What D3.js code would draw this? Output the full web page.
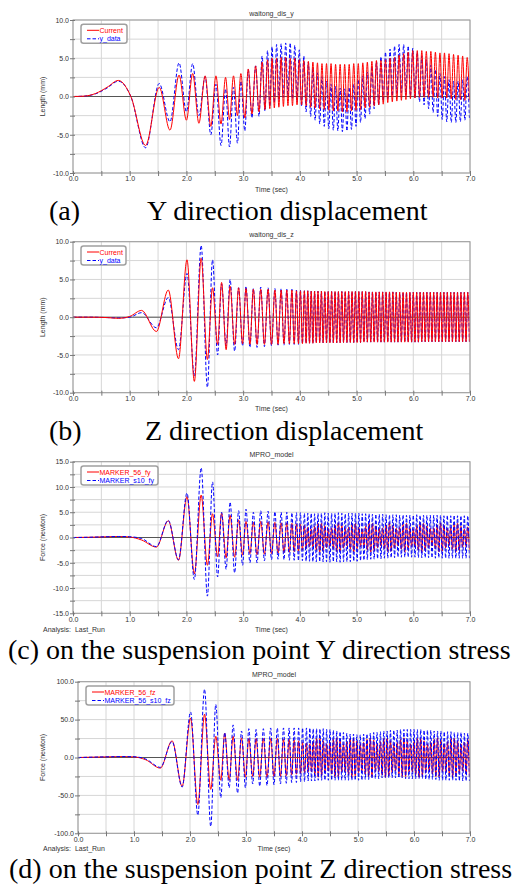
<!DOCTYPE html>
<html>
<head>
<meta charset="utf-8">
<script src="https://cdn.jsdelivr.net/npm/d3@7"></script>
<style>
  body { margin: 0; background: #fff; }
  svg { display: block; }
</style>
</head>
<body>
<svg id="fig" width="512" height="890"></svg>
<script>
// ---- data (extrema, time in sec) ----
const xTicks = [0, 1, 2, 3, 4, 5, 6, 7];
const xGridTicks = [0, 0.5, 1, 1.5, 2, 2.5, 3, 3.5, 4, 4.5, 5, 5.5, 6, 6.5, 7];

// (a) Y displacement
const timeY = [0, 0.2, 0.4, 0.6, 0.8, 1.02, 1.28, 1.52, 1.71, 1.87, 2.00, 2.11, 2.22, 2.33, 2.43, 2.52, 2.61, 2.69, 2.76, 2.83, 2.90, 2.96, 3.03, 3.09, 3.155,
  3.22, 3.28, 3.335, 3.385,
  3.43, 3.47, 3.51, 3.55, 3.59, 3.63, 3.67, 3.71, 3.75, 3.79,
  3.83, 3.87, 3.91, 3.95, 3.99, 4.03, 4.07, 4.11, 4.15, 4.19,
  4.23, 4.27, 4.31, 4.35, 4.39, 4.43, 4.47, 4.51, 4.55, 4.59,
  4.63, 4.67, 4.71, 4.75, 4.79, 4.83, 4.87, 4.91, 4.95, 4.99,
  5.03, 5.07, 5.11, 5.15, 5.19, 5.23, 5.27, 5.31, 5.35, 5.39,
  5.43, 5.47, 5.51, 5.55, 5.59, 5.63, 5.67, 5.71, 5.75, 5.79,
  5.83, 5.87, 5.91, 5.95, 5.99, 6.03, 6.07, 6.11, 6.15, 6.19,
  6.23, 6.27, 6.31, 6.35, 6.39, 6.43, 6.47, 6.51, 6.55, 6.59,
  6.63, 6.67, 6.71, 6.75, 6.79, 6.83, 6.87, 6.91, 6.95, 6.99];
const currentY = [0, 0.05, 0.4, 1.2, 2.1, 0, -6.4, 1.2, -4.4, 2.8, -3.1, 3.0, -3.5, 2.7, -3.9, 2.7, -3.6, 2.5, -3.0, 2.7, -2.5, 3.0, -2.8, 3.6, -2.3,
  4.0, -2.0, 4.5, -1.7,
  4.8, -1.6, 5.0, -1.5, 5.0, -1.4, 5.1, -1.3, 5.1, -1.2,
  5.0, -1.2, 5.0, -1.1, 4.8, -1.1, 4.7, -1.2, 4.6, -1.4,
  4.5, -1.5, 4.4, -1.6, 4.3, -1.7, 4.3, -1.8, 4.3, -1.9,
  4.2, -1.9, 4.2, -2.0, 4.2, -2.0, 4.2, -1.9, 4.3, -1.8,
  4.3, -1.7, 4.4, -1.5, 4.5, -1.4, 4.6, -1.2, 4.7, -1.1,
  4.7, -1.0, 4.8, -0.8, 5.0, -0.7, 5.1, -0.6, 5.4, -0.5,
  5.6, -0.4, 5.8, -0.3, 6.0, -0.2, 6.0, -0.1, 6.0, -0.1,
  5.9, -0.1, 5.9, -0.1, 5.8, -0.2, 5.7, -0.2, 5.7, -0.2,
  5.6, -0.3, 5.5, -0.4, 5.4, -0.4, 5.3, -0.5, 5.1, -0.5];
const dataY = [0, 0.05, 0.35, 1.1, 2.0, 0, -6.7, 1.7, -3.3, 4.4, -2.0, 4.3, -2.5, 2.6, -5.0, 1.6, -6.4, 1.0, -6.6, 1.2, -6.1, 2.0, -4.5, 3.5, -2.8,
  4.0, -2.6, 5.3, -1.9,
  6.0, -1.3, 6.5, -0.8, 6.8, -0.4, 6.9, -0.1, 7.0, 0.0,
  7.0, -0.3, 6.7, -0.7, 6.1, -1.3, 5.3, -2.0, 4.5, -2.6,
  3.8, -3.1, 3.1, -3.6, 2.6, -3.9, 2.0, -4.2, 1.6, -4.4,
  1.3, -4.5, 1.1, -4.6, 1.0, -4.5, 1.2, -4.3, 1.6, -3.9,
  2.2, -3.4, 2.7, -2.9, 3.2, -2.3, 3.9, -1.6, 4.6, -1.1,
  5.2, -0.6, 5.8, -0.3, 6.2, 0.1, 6.6, 0.4, 6.8, 0.5,
  6.8, 0.3, 6.6, 0.1, 6.3, -0.2, 5.8, -0.7, 5.3, -1.1,
  4.8, -1.6, 4.1, -2.1, 3.5, -2.6, 3.0, -3.0, 2.6, -3.3,
  2.2, -3.4, 2.0, -3.4, 2.0, -3.3, 2.2, -3.1, 2.6, -2.8];

// (b), (c), (d) share the same timing
const timeZ = [0, 0.3, 0.6, 0.8, 1.0, 1.21, 1.47, 1.68, 1.86, 2.01, 2.14, 2.26, 2.37, 2.46, 2.55, 2.62, 2.70, 2.77, 2.85, 2.92, 2.99, 3.05, 3.12, 3.18,
  3.245, 3.31, 3.375, 3.44, 3.50, 3.56, 3.615, 3.67, 3.72, 3.77, 3.815, 3.86, 3.90, 3.94, 3.975, 4.01, 4.045, 4.08,
  4.11, 4.14, 4.17, 4.20, 4.23, 4.26, 4.29, 4.32, 4.35, 4.38,
  4.41, 4.44, 4.47, 4.50, 4.53, 4.56, 4.59, 4.62, 4.65, 4.68,
  4.71, 4.74, 4.77, 4.80, 4.83, 4.86, 4.89, 4.92, 4.95, 4.98,
  5.01, 5.04, 5.07, 5.10, 5.13, 5.16, 5.19, 5.22, 5.25, 5.28,
  5.31, 5.34, 5.37, 5.40, 5.43, 5.46, 5.49, 5.52, 5.55, 5.58,
  5.61, 5.64, 5.67, 5.70, 5.73, 5.76, 5.79, 5.82, 5.85, 5.88,
  5.91, 5.94, 5.97, 6.00, 6.03, 6.06, 6.09, 6.12, 6.15, 6.18,
  6.21, 6.24, 6.27, 6.30, 6.33, 6.36, 6.39, 6.42, 6.45, 6.48,
  6.51, 6.54, 6.57, 6.60, 6.63, 6.66, 6.69, 6.72, 6.75, 6.78,
  6.81, 6.84, 6.87, 6.90, 6.93, 6.96, 6.99];
const currentZ = [0, 0, -0.05, -0.15, 0.1, 0.9, -1.9, 3.6, -5.5, 7.6, -8.5, 7.8, -5.6, 3.9, -3.6, 4.6, -4.3, 4.1, -3.6, 3.9, -3.5, 3.8, -3.6, 3.7,
  -3.6, 3.7, -3.6, 3.7, -3.6, 3.6, -3.6, 3.6, -3.5, 3.6, -3.5, 3.6, -3.5, 3.5, -3.5, 3.5, -3.5, 3.5,
  -3.45, 3.5, -3.45, 3.45, -3.45, 3.45, -3.4, 3.45, -3.4, 3.45,
  -3.4, 3.4, -3.4, 3.4, -3.4, 3.4, -3.4, 3.4, -3.4, 3.4,
  -3.4, 3.4, -3.35, 3.4, -3.35, 3.4, -3.35, 3.4, -3.35, 3.4,
  -3.35, 3.4, -3.35, 3.4, -3.3, 3.4, -3.3, 3.35, -3.3, 3.35,
  -3.3, 3.35, -3.3, 3.35, -3.3, 3.35, -3.3, 3.35, -3.3, 3.35,
  -3.3, 3.35, -3.3, 3.3, -3.3, 3.3, -3.3, 3.3, -3.3, 3.3,
  -3.3, 3.3, -3.3, 3.3, -3.3, 3.3, -3.3, 3.3, -3.25, 3.3,
  -3.25, 3.3, -3.25, 3.3, -3.25, 3.3, -3.25, 3.3, -3.25, 3.3,
  -3.25, 3.3, -3.25, 3.3, -3.25, 3.3, -3.25, 3.3, -3.25, 3.3,
  -3.25, 3.3, -3.25, 3.3, -3.25, 3.3, -3.25];
const dataZ = [0, 0, -0.05, -0.1, 0.0, 0.6, -1.4, 2.6, -4.3, 5.8, -7.8, 9.5, -9.3, 7.6, -5.0, 4.4, -3.8, 5.0, -4.5, 3.9, -3.8, 4.1, -4.0, 3.8,
  -4.0, 4.0, -3.9, 3.9, -3.8, 3.8, -3.7, 3.8, -3.7, 3.7, -3.6, 3.7, -3.6, 3.6, -3.6, 3.6, -3.5, 3.5,
  -3.45, 3.5, -3.45, 3.45, -3.45, 3.45, -3.4, 3.45, -3.4, 3.45,
  -3.4, 3.4, -3.4, 3.4, -3.4, 3.4, -3.4, 3.4, -3.4, 3.4,
  -3.4, 3.4, -3.35, 3.4, -3.35, 3.4, -3.35, 3.4, -3.35, 3.4,
  -3.35, 3.4, -3.35, 3.4, -3.3, 3.4, -3.3, 3.35, -3.3, 3.35,
  -3.3, 3.35, -3.3, 3.35, -3.3, 3.35, -3.3, 3.35, -3.3, 3.35,
  -3.3, 3.35, -3.3, 3.3, -3.3, 3.3, -3.3, 3.3, -3.3, 3.3,
  -3.3, 3.3, -3.3, 3.3, -3.3, 3.3, -3.3, 3.3, -3.25, 3.3,
  -3.25, 3.3, -3.25, 3.3, -3.25, 3.3, -3.25, 3.3, -3.25, 3.3,
  -3.25, 3.3, -3.25, 3.3, -3.25, 3.3, -3.25, 3.3, -3.25, 3.3,
  -3.25, 3.3, -3.25, 3.3, -3.25, 3.3, -3.25];
const marker56Fy = [0, 0.05, 0.15, 0.2, 0.1, -0.5, -1.9, 3.3, -4.5, 8.1, -7.2, 8.4, -5.5, 4.7, -3.8, 4.8, -4.0, 4.4, -3.9, 3.5, -3.5, 3.2, -3.2, 3.0,
  -3.4, 3.2, -3.3, 3.1, -3.2, 3.0, -3.1, 2.9, -3.0, 2.9, -2.9, 2.8, -2.8, 2.7, -2.7, 2.6, -2.5, 2.4,
  -2.2, 2.0, -1.8, 1.7, -1.9, 2.2, -2.5, 2.8, -2.9, 2.8,
  -2.6, 2.3, -2.0, 1.8, -1.7, 1.9, -2.2, 2.5, -2.8, 2.9,
  -2.7, 2.4, -2.1, 1.8, -1.7, 2.0, -2.3, 2.6, -2.9, 2.8,
  -2.2, 2.0, -1.8, 1.7, -1.9, 2.2, -2.5, 2.8, -2.9, 2.8,
  -2.6, 2.3, -2.0, 1.8, -1.7, 1.9, -2.2, 2.5, -2.8, 2.9,
  -2.7, 2.4, -2.1, 1.8, -1.7, 2.0, -2.3, 2.6, -2.9, 2.8,
  -2.2, 2.0, -1.8, 1.7, -1.9, 2.2, -2.5, 2.8, -2.9, 2.8,
  -2.6, 2.3, -2.0, 1.8, -1.7, 1.9, -2.2, 2.5, -2.8, 2.9,
  -2.7, 2.4, -2.1, 1.8, -1.7, 2.0, -2.3, 2.6, -2.9, 2.8,
  -2.5, 2.2, -1.9, 1.7, -1.8, 2.1, -2.4];
const markerS10Fy = [0, 0.05, 0.15, 0.2, 0.15, -0.2, -1.8, 3.4, -4.4, 8.8, -8.3, 13.8, -11.6, 11.0, -7.8, 5.0, -6.3, 7.0, -7.0, 5.3, -5.5, 5.6, -5.0, 5.0,
  -5.0, 5.3, -4.6, 5.2, -4.4, 5.1, -4.3, 5.0, -4.4, 5.0, -4.5, 4.9, -4.5, 4.9, -4.6, 4.9, -4.6, 4.8,
  -4.7, 4.8, -4.7, 4.8, -4.8, 4.7, -4.8, 4.8, -4.8, 4.8,
  -4.8, 4.9, -4.8, 4.8, -4.9, 4.8, -4.8, 4.8, -4.8, 4.9,
  -4.9, 4.8, -4.8, 4.7, -4.8, 4.8, -4.8, 4.8, -4.7, 4.8,
  -4.7, 4.8, -4.6, 4.7, -4.5, 4.7, -4.4, 4.7, -4.3, 4.6,
  -4.3, 4.6, -4.2, 4.6, -4.2, 4.6, -4.1, 4.5, -4.1, 4.5,
  -4.0, 4.5, -4.0, 4.5, -3.9, 4.4, -3.9, 4.5, -3.9, 4.4,
  -3.9, 4.4, -3.9, 4.4, -3.9, 4.5, -4.0, 4.4, -4.0, 4.4,
  -4.0, 4.4, -4.0, 4.4, -4.0, 4.4, -4.1, 4.4, -4.0, 4.4,
  -4.1, 4.3, -4.1, 4.4, -4.1, 4.3, -4.1, 4.4, -4.1, 4.3,
  -4.1, 4.3, -4.1, 4.3, -4.1, 4.3, -4.1];
const marker56Fz = [0, 0.5, 1.0, 1.2, 0.8, -3, -14, 22, -38, 52, -62, 57, -42, 28, -30, 32, -30, 28, -30, 26, -26, 25, -25, 25,
  -26, 25, -26, 25, -25, 25, -25, 24, -24, 24, -23, 23, -22, 22, -21, 20, -20, 19,
  -19, 18, -19, 21, -23, 25, -26, 25, -24, 22,
  -20, 18, -18, 20, -22, 24, -25, 26, -25, 23,
  -19, 18, -19, 21, -23, 25, -26, 25, -24, 22,
  -20, 18, -18, 20, -22, 24, -25, 26, -25, 23,
  -19, 18, -19, 21, -23, 25, -26, 25, -24, 22,
  -20, 18, -18, 20, -22, 24, -25, 26, -25, 23,
  -19, 18, -19, 21, -23, 25, -26, 25, -24, 22,
  -20, 18, -18, 20, -22, 24, -25, 26, -25, 23,
  -19, 18, -19, 21, -23, 25, -26, 25, -24, 22,
  -20, 18, -18, 20, -22, 24, -25];
const marker56S10Fz = [0, 0.5, 1.0, 1.2, 1.0, -2, -13, 21, -39, 60, -76, 90, -91, 70, -53, 33, -40, 43, -47, 35, -40, 38, -35, 37,
  -38, 38, -37, 39, -36, 39, -35, 39, -34, 39, -33, 39, -33, 39, -32, 39, -32, 39,
  -31, 39, -31, 38, -31, 38, -30, 38, -30, 38,
  -30, 37, -30, 37, -30, 36, -30, 35, -30, 34,
  -30, 33, -30, 32, -30, 31, -30, 31, -30, 30,
  -30, 30, -30, 31, -29, 31, -29, 32, -28, 33,
  -28, 33, -28, 34, -27, 35, -27, 35, -27, 36,
  -27, 36, -27, 36, -27, 37, -27, 37, -28, 37,
  -28, 37, -28, 37, -28, 37, -28, 37, -28, 36,
  -29, 36, -29, 36, -29, 35, -29, 35, -30, 35,
  -30, 34, -30, 34, -30, 34, -30, 33, -30, 33,
  -31, 33, -31, 32, -31, 32, -31];

const panels = [
  {
    title: 'waitong_dis_y', yLabel: 'Length (mm)', yDomain: [-10, 10],
    yLabelTicks: [-10, -5, 0, 5, 10], yGridTicks: [-10, -7.5, -5, -2.5, 0, 2.5, 5, 7.5, 10],
    time: timeY, series: [{ name: 'Current', values: currentY }, { name: 'y_data', values: dataY }],
    drawOrder: [1, 0],
    box: { l: 73, r: 470, t: 20, b: 173 }, legendW: 46, analysis: false, subDy: 18.5,
    caption: [{ x: 49, text: '(a)' }, { x: 147, text: 'Y direction displacement' }], capY: 220
  },
  {
    title: 'waitong_dis_z', yLabel: 'Length (mm)', yDomain: [-10, 10],
    yLabelTicks: [-10, -5, 0, 5, 10], yGridTicks: [-10, -7.5, -5, -2.5, 0, 2.5, 5, 7.5, 10],
    time: timeZ, series: [{ name: 'Current', values: currentZ }, { name: 'y_data', values: dataZ }],
    drawOrder: [1, 0],
    box: { l: 73, r: 470, t: 241.7, b: 392.7 }, legendW: 45, analysis: false, subDy: 18.5,
    caption: [{ x: 49, text: '(b)' }, { x: 145, text: 'Z direction displacement' }], capY: 440
  },
  {
    title: 'MPRO_model', yLabel: 'Force (newton)', yDomain: [-15, 15],
    yLabelTicks: [-15, -10, -5, 0, 5, 10, 15],
    yGridTicks: [-15, -12.5, -10, -7.5, -5, -2.5, 0, 2.5, 5, 7.5, 10, 12.5, 15],
    time: timeZ, series: [{ name: 'MARKER_56_fy', values: marker56Fy }, { name: 'MARKER_s10_fy', values: markerS10Fy }],
    drawOrder: [0, 1],
    box: { l: 73, r: 470, t: 461.7, b: 613.3 }, legendW: 77, analysis: true, subDy: 18.5,
    caption: [{ x: 8, text: '(c) on the suspension point Y direction stress' }], capY: 658.5
  },
  {
    title: 'MPRO_model', yLabel: 'Force (newton)', yDomain: [-100, 100],
    yLabelTicks: [-100, -50, 0, 50, 100], yGridTicks: [-100, -75, -50, -25, 0, 25, 50, 75, 100],
    time: timeZ, series: [{ name: 'MARKER_56_fz', values: marker56Fz }, { name: 'MARKER_56_s10_fz', values: marker56S10Fz }],
    drawOrder: [0, 1],
    box: { l: 78, r: 470, t: 681.7, b: 833.3 }, legendW: 88, analysis: true, subDy: 17.5,
    caption: [{ x: 9, text: '(d) on the suspension point Z direction stress' }], capY: 877.5
  }
];

const colors = ['#ff0000', '#0000ff'];
const dashes = [null, '3.5,2'];
const sans = 'Liberation Sans, Arial, sans-serif';

const svg = d3.select('#fig');

panels.forEach((p, pi) => {
  const b = p.box;
  const g = svg.append('g');
  const x = d3.scaleLinear().domain([0, 7]).range([b.l, b.r]);
  const y = d3.scaleLinear().domain(p.yDomain).range([b.b, b.t]);

  // grid
  g.append('g').selectAll('line').data(xGridTicks).join('line')
    .attr('x1', d => x(d)).attr('x2', d => x(d)).attr('y1', b.t).attr('y2', b.b)
    .attr('stroke', '#d6d6d6').attr('stroke-width', 1);
  g.append('g').selectAll('line').data(p.yGridTicks).join('line')
    .attr('x1', b.l).attr('x2', b.r).attr('y1', d => y(d)).attr('y2', d => y(d))
    .attr('stroke', '#d6d6d6').attr('stroke-width', 1);
  // zero line
  g.append('line').attr('x1', b.l).attr('x2', b.r).attr('y1', y(0)).attr('y2', y(0))
    .attr('stroke', '#555').attr('stroke-width', 1);

  // curves
  const clipId = 'clip' + pi;
  g.append('clipPath').attr('id', clipId).append('rect')
    .attr('x', b.l).attr('y', b.t).attr('width', b.r - b.l).attr('height', b.b - b.t);
  const line = d3.line().x(d => x(d.t)).y(d => y(d.v)).curve(d3.curveMonotoneX);
  p.drawOrder.forEach(si => {
    const s = p.series[si];
    const n = Math.min(p.time.length, s.values.length);
    const pts = p.time.slice(0, n).map((t, i) => ({ t: t, v: s.values[i] }));
    g.append('path').datum(pts).attr('d', line)
      .attr('clip-path', `url(#${clipId})`)
      .attr('fill', 'none').attr('stroke', colors[si]).attr('stroke-width', 1)
      .attr('stroke-dasharray', dashes[si]);
  });

  // frame
  g.append('rect').attr('x', b.l).attr('y', b.t).attr('width', b.r - b.l).attr('height', b.b - b.t)
    .attr('fill', 'none').attr('stroke', '#9a9a9a').attr('stroke-width', 1);

  // axes
  const ax = g.append('g').attr('transform', `translate(0,${b.b})`)
    .call(d3.axisBottom(x).tickValues(xGridTicks).tickSizeInner(3).tickSizeOuter(0)
      .tickFormat(d => xTicks.includes(d) ? d.toFixed(1) : ''));
  const ay = g.append('g').attr('transform', `translate(${b.l},0)`)
    .call(d3.axisLeft(y).tickValues(p.yGridTicks).tickSizeInner(3).tickSizeOuter(0)
      .tickFormat(d => p.yLabelTicks.includes(d) ? d.toFixed(1) : ''));
  [ax, ay].forEach(a => {
    a.select('.domain').remove();
    a.selectAll('line').attr('stroke', '#777');
    a.selectAll('text').attr('fill', '#333').style('font-family', sans).style('font-size', '7px');
  });
  ax.selectAll('line').attr('y1', -2);
  ax.selectAll('text').attr('y', 3.5);
  ay.selectAll('line').attr('x1', 2);
  ay.selectAll('text').attr('x', -4);

  // titles
  g.append('text').attr('x', (b.l + b.r) / 2).attr('y', b.t - 4.5).attr('text-anchor', 'middle')
    .style('font-family', sans).style('font-size', '7px').attr('fill', '#333').text(p.title);
  g.append('text').attr('x', (b.l + b.r) / 2).attr('y', b.b + p.subDy).attr('text-anchor', 'middle')
    .style('font-family', sans).style('font-size', '7px').attr('fill', '#333').text('Time (sec)');
  g.append('text').attr('transform', `translate(45,${(b.t + b.b) / 2}) rotate(-90)`).attr('text-anchor', 'middle')
    .style('font-family', sans).style('font-size', '7px').attr('fill', '#333').text(p.yLabel);
  if (p.analysis) {
    g.append('text').attr('x', 43).attr('y', b.b + p.subDy).attr('xml:space', 'preserve')
      .style('font-family', sans).style('font-size', '7px').attr('fill', '#333').text('Analysis:  Last_Run');
  }

  // legend
  const lg = g.append('g').attr('transform', `translate(${b.l + 8},${b.t + 4.3})`);
  lg.append('rect').attr('width', p.legendW).attr('height', 19).attr('rx', 2.5)
    .attr('fill', '#fff').attr('stroke', '#a0a0a0').attr('stroke-width', 1.5);
  p.series.forEach((s, si) => {
    const ly = 6 + si * 8.5;
    lg.append('line').attr('x1', 6).attr('x2', 18).attr('y1', ly).attr('y2', ly)
      .attr('stroke', colors[si]).attr('stroke-width', 1).attr('stroke-dasharray', dashes[si]);
    lg.append('text').attr('x', 18.5).attr('y', ly + 2.5)
      .style('font-family', sans).style('font-size', '7px').attr('fill', colors[si]).text(s.name);
  });

  // caption
  p.caption.forEach(c => {
    svg.append('text').attr('x', c.x).attr('y', p.capY)
      .style('font-family', 'Liberation Serif, Times New Roman, serif').style('font-size', '28px')
      .attr('fill', '#000').text(c.text);
  });
});
</script>
</body>
</html>
